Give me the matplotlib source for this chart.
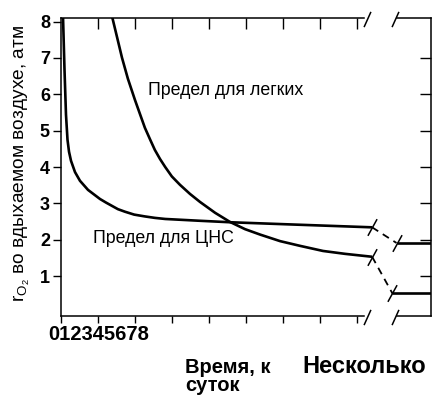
import matplotlib
matplotlib.use("Agg")
import matplotlib.pyplot as plt
import matplotlib.transforms as mtransforms
from matplotlib.path import Path

plt.rcParams['font.family'] = ['Liberation Sans', 'DejaVu Sans']
plt.rcParams['mathtext.fontset'] = 'custom'
plt.rcParams['mathtext.rm'] = 'Liberation Sans'

# Time axis, days (0..8), then a break to "several days"
x_tick_labels = ['0', '1', '2', '3', '4', '5', '6', '7', '8']
x_ticks = [0, 1, 2, 3, 4, 5, 6, 7, 8]
y_ticks = [1, 2, 3, 4, 5, 6, 7, 8]
y_tick_labels = ['1', '2', '3', '4', '5', '6', '7', '8']

# CNS oxygen tolerance limit (atm vs days)
cns_t = [0.054, 0.095, 0.135, 0.176, 0.217, 0.271, 0.379, 0.514, 0.731,
         1.055, 1.22, 1.38, 1.54, 1.73, 1.98, 2.27, 2.54, 2.82, 3.76, 4.57,
         6.2, 8.42]
cns_p = [8.15, 6.67, 5.44, 4.75, 4.42, 4.17, 3.86, 3.62, 3.37,
         3.12, 3.02, 2.93, 2.84, 2.77, 2.69, 2.64, 2.60, 2.57, 2.52, 2.48,
         2.42, 2.34]

# Pulmonary oxygen tolerance limit
lung_t = [1.38, 1.52, 1.65, 1.81, 2.0, 2.14, 2.27, 2.41, 2.54, 2.68, 2.82,
          3.0, 3.22, 3.49, 3.76, 4.17, 4.57, 4.98, 5.39, 5.93, 6.47, 7.09,
          7.69, 8.42]
lung_p = [8.15, 7.56, 7.01, 6.43, 5.85, 5.45, 5.08, 4.76, 4.47, 4.22, 4.0,
          3.74, 3.51, 3.26, 3.04, 2.74, 2.49, 2.29, 2.14, 1.96, 1.83, 1.69,
          1.61, 1.53]

# Across the break (dashed) and the long-exposure plateau
cns_break_t = [8.42, 9.08]
cns_break_p = [2.34, 1.91]
cns_tail_t = [9.08, 10.0]
cns_tail_p = [1.91, 1.91]

lung_break_t = [8.42, 8.97]
lung_break_p = [1.53, 0.52]
lung_tail_t = [8.97, 10.0]
lung_tail_p = [0.52, 0.52]

# Gap in the time axis
axis_break = [8.2, 9.1]

fig = plt.figure(figsize=(4.45, 3.96), dpi=100)
ax = fig.add_axes([61 / 445, (396 - 316) / 396, 369.5 / 445, 298 / 396])
ax.set_xlim(0, 10)
ax.set_ylim(-0.1, 8.1)

lw_curve = 1.9
for tt, pp in ((cns_t, cns_p), (lung_t, lung_p),
               (cns_tail_t, cns_tail_p), (lung_tail_t, lung_tail_p)):
    ax.plot(tt, pp, color='black', lw=lw_curve, solid_capstyle='butt',
            solid_joinstyle='round')

slash = Path([(-0.55, -1.0), (0.55, 1.0)], [Path.MOVETO, Path.LINETO])
ax.plot(cns_break_t, cns_break_p, color='black', lw=1.3, ls=(0, (4, 3)),
        marker=slash, markersize=12, markeredgewidth=1.1)
ax.plot(lung_break_t, lung_break_p, color='black', lw=1.3, ls=(0, (4, 3)),
        marker=slash, markersize=12, markeredgewidth=1.1)

# Spines: left and right intact, top and bottom broken
for side in ('top', 'bottom'):
    ax.spines[side].set_visible(False)
for side in ('left', 'right'):
    ax.spines[side].set_linewidth(1.1)

blend = mtransforms.blended_transform_factory(ax.transData, ax.transAxes)
for yy in (0, 1):
    ax.plot([0, axis_break[0]], [yy, yy], color='black', lw=1.1,
            transform=blend, clip_on=False)
    ax.plot([axis_break[1], 10], [yy, yy], color='black', lw=1.1,
            transform=blend, clip_on=False)
spine_slash = Path([(-0.45, -1.0), (0.45, 1.0)], [Path.MOVETO, Path.LINETO])
for yy in (0, 1):
    ax.plot([axis_break[0] + 0.08, axis_break[1] - 0.05], [yy - 0.005, yy - 0.005],
            ls='none', marker=spine_slash, markersize=11, markeredgewidth=1.1,
            color='black', transform=blend, clip_on=False)

# Ticks
ax.set_xticks(x_ticks)
ax.set_xticklabels([''] * len(x_ticks))
ax.tick_params(axis='x', direction='out', length=5, width=1.0, top=False)
ax.set_yticks(y_ticks)
ax.set_yticklabels(y_tick_labels, fontsize=13, fontweight='bold')
ax.tick_params(axis='y', direction='out', length=6, width=1.0, pad=2, right=False)

top = ax.secondary_xaxis('top')
top.set_xticks(x_ticks[1:])
top.set_xticklabels([''] * len(x_ticks[1:]))
top.tick_params(direction='in', length=8, width=1.0)
top.spines['top'].set_visible(False)

right = ax.secondary_yaxis('right')
right.set_yticks(y_ticks[:-1])
right.set_yticklabels([''] * len(y_ticks[:-1]))
right.tick_params(direction='in', length=8, width=1.0)
right.spines['right'].set_visible(False)

# Curve labels
ax.text(2.35, 6.1, 'Предел для легких', fontsize=12.8, ha='left', va='center')
ax.text(0.87, 2.02, 'Предел для ЦНС', fontsize=12.8, ha='left', va='center')

# Axis captions
fig.text(48 / 445, (396 - 334) / 396, ''.join(x_tick_labels), fontsize=14.5,
         fontweight='bold', ha='left', va='center')
fig.text(185 / 445, (396 - 373) / 396, 'Время, к', fontsize=14.5,
         fontweight='bold', ha='left', va='baseline')
fig.text(185 / 445, (396 - 391) / 396, 'суток', fontsize=14.5,
         fontweight='bold', ha='left', va='baseline')
fig.text(302 / 445, (396 - 373) / 396, 'Несколько', fontsize=17,
         fontweight='bold', ha='left', va='baseline')
fig.text(22 / 445, (396 - 163) / 396,
         r'r$_{\mathregular{O}_{\mathregular{2}}}$ во вдыхаемом воздухе, атм',
         fontsize=13.8, rotation=90, ha='center', va='center')

fig.savefig('out.png', dpi=100)
